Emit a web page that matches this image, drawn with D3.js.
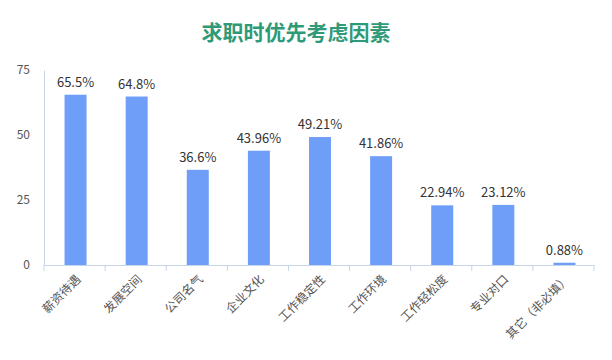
<!DOCTYPE html>
<html>
<head>
<meta charset="utf-8">
<script src="https://cdn.jsdelivr.net/npm/d3@7"></script>
<style>
  body { margin: 0; background: #fff; }
  text { font-family: "Noto Sans CJK SC", "Noto Sans", sans-serif; }
</style>
</head>
<body>
<div id="chart"></div>
<script>
var categories = ["薪资待遇", "发展空间", "公司名气", "企业文化", "工作稳定性", "工作环境", "工作轻松度", "专业对口", "其它（非必填）"];
var values = [65.5, 64.8, 36.6, 43.96, 49.21, 41.86, 22.94, 23.12, 0.88];
var valueLabels = ["65.5%", "64.8%", "36.6%", "43.96%", "49.21%", "41.86%", "22.94%", "23.12%", "0.88%"];
var yTicks = [0, 25, 50, 75];
var title = "求职时优先考虑因素";

var width = 612, height = 360;
var margin = { top: 70, right: 18, bottom: 95, left: 44 };

var svg = d3.select("#chart").append("svg")
    .attr("width", width)
    .attr("height", height);

svg.append("text")
    .attr("x", 296)
    .attr("y", 40)
    .attr("text-anchor", "middle")
    .attr("font-size", 21)
    .attr("font-weight", "bold")
    .attr("fill", "#2f9a77")
    .text(title);

var x = d3.scaleBand()
    .domain(categories)
    .range([margin.left, width - margin.right]);

var y = d3.scaleLinear()
    .domain([0, 75])
    .range([height - margin.bottom, margin.top]);

var axisColor = "#c6d5e8";

// y axis
var yAxis = svg.append("g")
    .attr("transform", "translate(" + margin.left + ",0)")
    .call(d3.axisLeft(y).tickValues(yTicks).tickSize(0).tickPadding(14));
yAxis.select(".domain").attr("stroke", axisColor);
yAxis.selectAll("text").attr("font-size", 12).attr("fill", "#555");

// x axis
var xAxis = svg.append("g")
    .attr("transform", "translate(0," + y(0) + ")")
    .call(d3.axisBottom(x).tickSize(0).tickFormat(""));
xAxis.select(".domain").attr("stroke", axisColor);
xAxis.selectAll(".tick").remove();

// boundary ticks
var bounds = categories.map(function(d) { return x(d); }).concat([x.range()[1]]);
svg.append("g").selectAll("line")
    .data(bounds)
    .enter().append("line")
    .attr("x1", function(d) { return d; })
    .attr("x2", function(d) { return d; })
    .attr("y1", y(0))
    .attr("y2", y(0) + 6)
    .attr("stroke", axisColor);

// bars
var barW = 22;
svg.append("g").selectAll("rect")
    .data(values)
    .enter().append("rect")
    .attr("x", function(d, i) { return x(categories[i]) + x.bandwidth() / 2 - barW / 2 + 1; })
    .attr("y", function(d) { return y(d); })
    .attr("width", barW)
    .attr("height", function(d) { return y(0) - y(d); })
    .attr("fill", "#6f9ef8");

// value labels
svg.append("g").selectAll("text")
    .data(values)
    .enter().append("text")
    .attr("x", function(d, i) { return x(categories[i]) + x.bandwidth() / 2 + 1; })
    .attr("y", function(d) { return y(d) - 8; })
    .attr("text-anchor", "middle")
    .attr("font-size", 13)
    .attr("fill", "#333")
    .text(function(d, i) { return valueLabels[i]; });

// category labels
svg.append("g").selectAll("text")
    .data(categories)
    .enter().append("text")
    .attr("transform", function(d) {
        return "translate(" + (x(d) + x.bandwidth() / 2 + 4) + "," + (y(0) + 12) + ") rotate(-45)";
    })
    .attr("text-anchor", "end")
    .attr("dy", "0.35em")
    .attr("font-size", 12)
    .attr("fill", "#555")
    .text(function(d) { return d; });
</script>
</body>
</html>
